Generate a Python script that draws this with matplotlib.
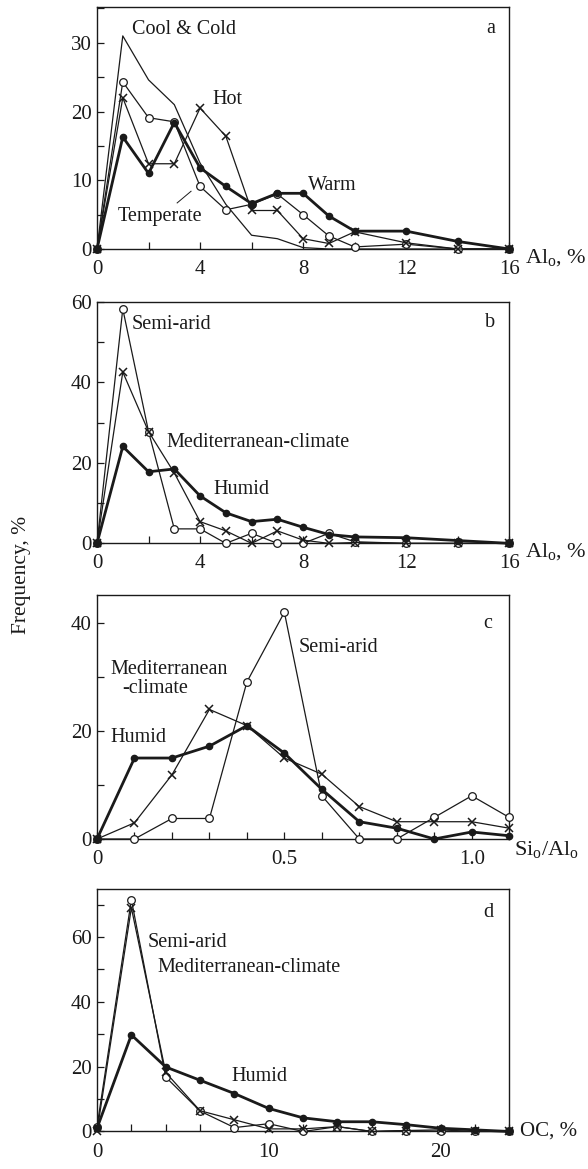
import matplotlib.pyplot as plt
from matplotlib.ticker import MultipleLocator, FixedLocator, FixedFormatter

plt.rcParams["font.family"] = ["Liberation Serif", "DejaVu Serif"]
plt.rcParams["mathtext.fontset"] = "custom"
plt.rcParams["mathtext.rm"] = "Liberation Serif"

# panel a: Al_o by temperature class
x_a = [0, 1, 2, 3, 4, 5, 6, 7, 8, 9, 10, 12, 14, 16]
cool_a = [0, 31, 24.6, 21, 12.5, 6.5, 2, 1.5, 0.2, 0, 0, 0, 0, 0]
temperate_a = [0, 24.3, 19.1, 18.5, 9.1, 5.7, 6.5, 8.0, 5.0, 1.9, 0.3, 0.7, 0, 0]
hot_a = [0, 22, 12.4, 12.4, 20.5, 16.4, 5.6, 5.6, 1.5, 0.8, 2.5, 0.9, 0, 0]
warm_a = [0, 16.3, 11, 18.4, 11.8, 9.1, 6.6, 8.1, 8.1, 4.8, 2.6, 2.6, 1.1, 0]

# panel b: Al_o by moisture class
x_b = [0, 1, 2, 3, 4, 5, 6, 7, 8, 9, 10, 12, 14, 16]
semi_b = [0, 58.3, 27.8, 3.6, 3.6, 0, 2.5, 0, 0, 2.5, 0.4, 0, 0, 0]
med_b = [0, 42.6, 27.8, 17.5, 5.4, 3.1, 0, 3.1, 0.8, 0, 0.2, 0, 0, 0]
humid_b = [0, 24.1, 17.8, 18.5, 11.8, 7.6, 5.4, 6.0, 4.0, 2.2, 1.6, 1.4, 0.7, 0]

# panel c: Si_o/Al_o
x_c = [0, 0.1, 0.2, 0.3, 0.4, 0.5, 0.6, 0.7, 0.8, 0.9, 1.0, 1.1]
semi_c = [0, 0, 3.8, 3.8, 29.1, 42, 8, 0, 0, 4, 8, 4]
med_c = [0, 3, 11.9, 24, 21, 15, 12, 6, 3.2, 3.2, 3.2, 2]
humid_c = [0, 15, 15, 17.2, 21, 15.9, 9.2, 3.2, 2, 0, 1.3, 0.6]

# panel d: OC
x_d = [0, 2, 4, 6, 8, 10, 12, 14, 16, 18, 20, 22, 24]
semi_d = [1.5, 71.5, 16.8, 6.3, 1.2, 2.4, 0, 1.5, 0, 0.3, 0, 0, 0]
med_d = [0, 69, 18.2, 6.4, 3.6, 0.8, 0.8, 1.5, 0, 0.3, 0.5, 0, 0]
humid_d = [1, 29.8, 19.9, 15.8, 11.7, 7.1, 4.2, 3.0, 3.0, 2.1, 1.0, 0.5, 0]

INK = "#1a1a1a"
FS = 14.5
TICK_FS = 15

thin = dict(color=INK, linewidth=0.9, clip_on=False, zorder=3)
thick = dict(color=INK, linewidth=2.0, clip_on=False, zorder=4)
open_c = dict(marker="o", markersize=5.5, markerfacecolor="white",
              markeredgecolor=INK, markeredgewidth=0.9)
cross = dict(marker="x", markersize=6, markeredgecolor=INK, markeredgewidth=1.1)
filled = dict(marker="o", markersize=4.5, markerfacecolor=INK, markeredgecolor=INK)

fig = plt.figure(figsize=(5.88, 11.69), dpi=100)

W = 0.701
L = 0.165
ax_a = fig.add_axes([L, 0.787, W, 0.207])
ax_b = fig.add_axes([L, 0.5352, W, 0.2064])
ax_c = fig.add_axes([L, 0.2823, W, 0.2087])
ax_d = fig.add_axes([L, 0.0321, W, 0.2074])


def style(ax, xmax, ymax, xmaj, xmin, ymaj, ymin):
    ax.set_xlim(0, xmax)
    ax.set_ylim(0, ymax)
    ax.xaxis.set_major_locator(MultipleLocator(xmaj))
    ax.xaxis.set_minor_locator(MultipleLocator(xmin))
    ax.yaxis.set_major_locator(MultipleLocator(ymaj))
    ax.yaxis.set_minor_locator(MultipleLocator(ymin))
    ax.tick_params(which="both", direction="in", length=5, width=0.9,
                   colors=INK, labelsize=TICK_FS)
    ax.tick_params(axis="x", pad=8)
    ax.tick_params(axis="y", pad=4)
    for s in ax.spines.values():
        s.set_linewidth(1.0)
        s.set_color(INK)


def ends(ax, x, y):
    # endpoint squares
    ax.plot([x[0], x[-1]], [y[0], y[-1]], linestyle="none", marker="s",
            markersize=5, color=INK, clip_on=False, zorder=6)


# a
ax_a.plot(x_a, cool_a, **thin)
ax_a.plot(x_a, temperate_a, **thin, **open_c)
ax_a.plot(x_a, hot_a, **thin, **cross)
ax_a.plot(x_a, warm_a, **thick, **filled)
ends(ax_a, x_a, warm_a)
style(ax_a, 16, 35.2, 4, 2, 10, 5)
ax_a.text(1.36, 32.0, "Cool & Cold", fontsize=FS, color=INK, va="center")
ax_a.text(4.47, 21.7, "Hot", fontsize=FS, color=INK, va="center")
ax_a.text(8.2, 9.3, "Warm", fontsize=FS, color=INK, va="center")
ax_a.text(0.82, 4.7, "Temperate", fontsize=FS, color=INK, va="center")
ax_a.plot([3.11, 3.65], [6.7, 8.4], color=INK, linewidth=0.7)
ax_a.text(0.954, 0.913, "a", transform=ax_a.transAxes, fontsize=FS,
          color=INK, ha="center", va="center")
ax_a.text(1.038, -0.037, r"Al$_\mathrm{o}$, %", transform=ax_a.transAxes,
          fontsize=16, color=INK, ha="left", va="center")

# b
ax_b.plot(x_b, semi_b, **thin, **open_c)
ax_b.plot(x_b, med_b, **thin, **cross)
ax_b.plot(x_b, humid_b, **thick, **filled)
ends(ax_b, x_b, humid_b)
style(ax_b, 16, 60, 4, 2, 20, 10)
ax_b.text(1.36, 54.3, "Semi-arid", fontsize=FS, color=INK, va="center")
ax_b.text(2.68, 25.2, "Mediterranean-climate", fontsize=FS, color=INK, va="center")
ax_b.text(4.5, 13.3, "Humid", fontsize=FS, color=INK, va="center")
ax_b.text(0.954, 0.917, "b", transform=ax_b.transAxes, fontsize=FS,
          color=INK, ha="center", va="center")
ax_b.text(1.038, -0.037, r"Al$_\mathrm{o}$, %", transform=ax_b.transAxes,
          fontsize=16, color=INK, ha="left", va="center")

# c
ax_c.plot(x_c, semi_c, **thin, **open_c)
ax_c.plot(x_c, med_c, **thin, **cross)
ax_c.plot(x_c, humid_c, **thick, **filled)
ax_c.plot([x_c[0]], [humid_c[0]], linestyle="none", marker="s",
          markersize=5, color=INK, clip_on=False, zorder=6)
style(ax_c, 1.1, 45.2, 0.5, 0.1, 20, 10)
ax_c.xaxis.set_major_locator(FixedLocator([0, 0.5, 1.0]))
ax_c.xaxis.set_major_formatter(FixedFormatter(["0", "0.5", "1.0"]))
ax_c.text(0.035, 31.4, "Mediterranean", fontsize=FS, color=INK, va="center")
ax_c.text(0.067, 27.9, "-climate", fontsize=FS, color=INK, va="center")
ax_c.text(0.035, 18.8, "Humid", fontsize=FS, color=INK, va="center")
ax_c.text(0.537, 35.4, "Semi-arid", fontsize=FS, color=INK, va="center")
ax_c.text(0.949, 0.885, "c", transform=ax_c.transAxes, fontsize=FS,
          color=INK, ha="center", va="center")
ax_c.text(1.012, -0.045, r"Si$_\mathrm{o}$/Al$_\mathrm{o}$",
          transform=ax_c.transAxes, fontsize=16, color=INK,
          ha="left", va="center")

# d
ax_d.plot(x_d, semi_d, **thin, **open_c)
ax_d.plot(x_d, med_d, **thin, **cross)
ax_d.plot(x_d, humid_d, **thick, **filled)
ends(ax_d, x_d, humid_d)
style(ax_d, 24, 74.8, 10, 2, 20, 10)
ax_d.text(2.92, 58.4, "Semi-arid", fontsize=FS, color=INK, va="center")
ax_d.text(3.5, 50.6, "Mediterranean-climate", fontsize=FS, color=INK, va="center")
ax_d.text(7.8, 16.9, "Humid", fontsize=FS, color=INK, va="center")
ax_d.text(0.949, 0.905, "d", transform=ax_d.transAxes, fontsize=FS,
          color=INK, ha="center", va="center")
ax_d.text(1.027, 0.0, "OC, %", transform=ax_d.transAxes,
          fontsize=15, color=INK, ha="left", va="center")

fig.text(22 / 588, 1 - 575 / 1169, "Frequency, %", rotation=90,
         fontsize=15.5, color=INK, ha="center", va="center")

fig.savefig("out.png", dpi=100)
